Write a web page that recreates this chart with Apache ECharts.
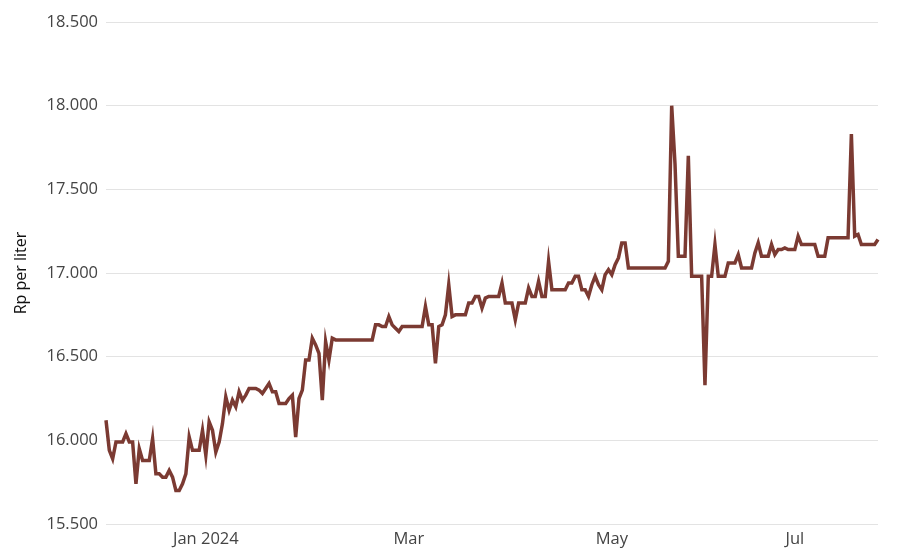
<!DOCTYPE html>
<html>
<head>
<meta charset="utf-8">
<script src="https://cdn.jsdelivr.net/npm/echarts@6/dist/echarts.min.js"></script>
<style>
html,body{margin:0;padding:0;background:#fff;}
#chart{width:900px;height:560px;}
</style>
</head>
<body>
<div id="chart"></div>
<script>
const prices = [
  16120, 15940, 15890, 15990, 15990, 15990, 16040, 15990, 15990, 15740,
  15950, 15880, 15880, 15880, 16010, 15800, 15800, 15780, 15780, 15820,
  15780, 15700, 15700, 15740, 15800, 16020, 15940, 15940, 15940, 16060,
  15910, 16110, 16060, 15930, 15990, 16100, 16260, 16180, 16240, 16200,
  16290, 16240, 16270, 16310, 16310, 16310, 16300, 16280, 16310, 16340,
  16290, 16290, 16220, 16220, 16220, 16250, 16270, 16020, 16250, 16300,
  16480, 16480, 16610, 16570, 16520, 16240, 16590, 16480, 16610, 16600,
  16600, 16600, 16600, 16600, 16600, 16600, 16600, 16600, 16600, 16600,
  16600, 16690, 16690, 16680, 16680, 16740, 16690, 16670, 16650, 16680,
  16680, 16680, 16680, 16680, 16680, 16680, 16800, 16690, 16690, 16460,
  16680, 16690, 16750, 16930, 16740, 16750, 16750, 16750, 16750, 16820,
  16820, 16860, 16860, 16790, 16850, 16860, 16860, 16860, 16860, 16940,
  16820, 16820, 16820, 16720, 16820, 16820, 16820, 16910, 16860, 16860,
  16950, 16860, 16860, 17070, 16900, 16900, 16900, 16900, 16900, 16940,
  16940, 16980, 16980, 16900, 16900, 16860, 16930, 16980, 16930, 16900,
  16990, 17020, 16990, 17050, 17090, 17180, 17180, 17030, 17030, 17030,
  17030, 17030, 17030, 17030, 17030, 17030, 17030, 17030, 17030, 17070,
  18000, 17650, 17100, 17100, 17100, 17700, 16980, 16980, 16980, 16980,
  16330, 16980, 16980, 17170, 16980, 16980, 16980, 17060, 17060, 17060,
  17110, 17030, 17030, 17030, 17030, 17120, 17180, 17100, 17100, 17100,
  17170, 17110, 17140, 17140, 17150, 17140, 17140, 17140, 17220, 17170,
  17170, 17170, 17170, 17170, 17100, 17100, 17100, 17210, 17210, 17210,
  17210, 17210, 17210, 17210, 17830, 17220, 17230, 17170, 17170, 17170,
  17170, 17170, 17200
];

// Observation numbers (categories) and where the month labels sit
const observations = prices.map((_, i) => i);
const tickObservations = [30, 91, 152, 207];
const tickLabels = ['Jan 2024', 'Mar', 'May', 'Jul'];

// Value axis ticks
const yMin = 15500, yMax = 18500, yStep = 500;
const yAxisTitle = 'Rp per liter';

const fmt = v => String(v).replace(/\B(?=(\d{3})+(?!\d))/g, '.');

const chart = echarts.init(document.getElementById('chart'), null, {renderer: 'canvas'});
chart.setOption({
  animation: false,
  backgroundColor: '#ffffff',
  textStyle: {fontFamily: 'Open Sans'},
  grid: {left: 106, right: 22, top: 22, bottom: 36, containLabel: false},
  xAxis: {
    type: 'category',
    data: observations,
    boundaryGap: false,
    axisLine: {show: false},
    axisTick: {show: false},
    splitLine: {show: false},
    axisLabel: {
      interval: (idx) => tickObservations.indexOf(idx) >= 0,
      formatter: (val, idx) => {
        const k = tickObservations.indexOf(Number(val));
        return k >= 0 ? tickLabels[k] : '';
      },
      color: '#444',
      fontSize: 16.5,
      margin: 7,
      fontFamily: 'Open Sans'
    }
  },
  yAxis: {
    type: 'value',
    min: yMin,
    max: yMax,
    interval: yStep,
    name: yAxisTitle,
    nameLocation: 'middle',
    nameGap: 77,
    nameTextStyle: {color: '#111', fontSize: 16, fontFamily: 'Open Sans'},
    axisLine: {show: false},
    axisTick: {show: false},
    splitLine: {lineStyle: {color: '#e3e3e3', width: 1}},
    axisLabel: {
      formatter: fmt,
      color: '#444',
      fontSize: 16.5,
      margin: 8,
      fontFamily: 'Open Sans'
    }
  },
  series: [{
    type: 'line',
    data: prices,
    showSymbol: false,
    symbol: 'none',
    lineStyle: {color: '#7b3a32', width: 3.5, join: 'miter'},
    itemStyle: {color: '#7b3a32'}
  }]
});
</script>
</body>
</html>
